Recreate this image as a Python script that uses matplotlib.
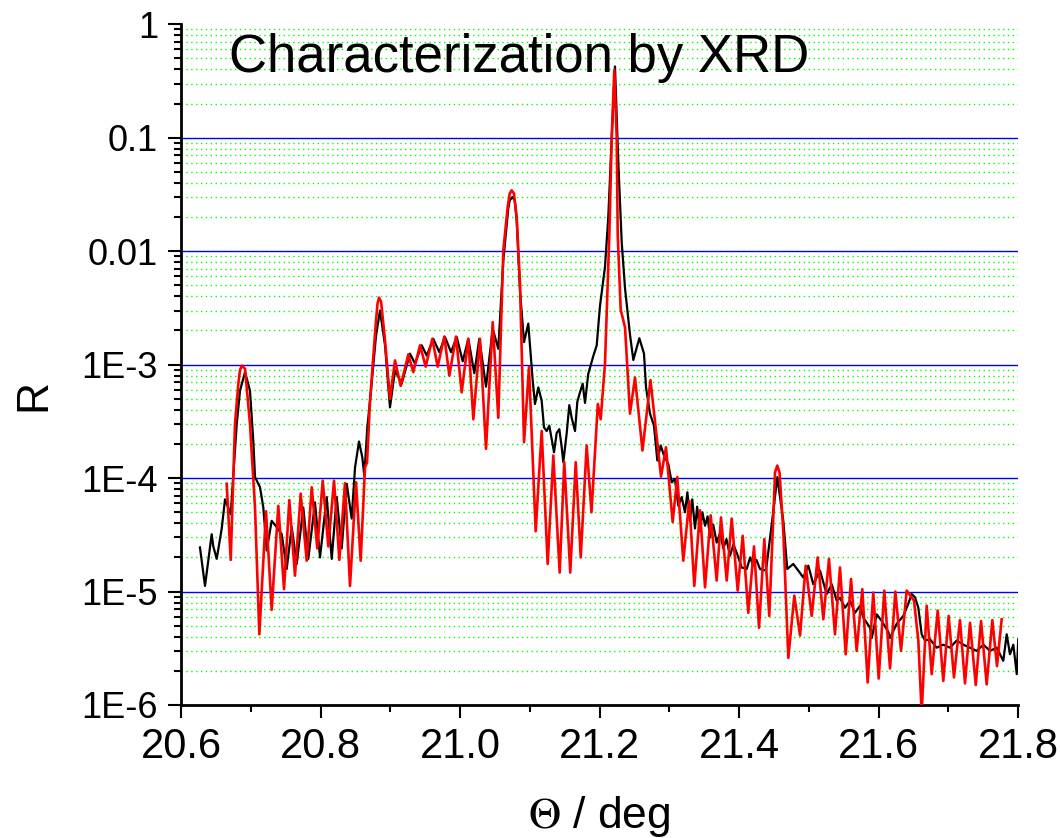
import matplotlib
matplotlib.use('Agg')
import matplotlib.pyplot as plt
from matplotlib.ticker import FixedLocator, FixedFormatter, NullFormatter

plt.rcParams['font.family'] = ['Liberation Sans', 'DejaVu Sans']
plt.rcParams['mathtext.fontset'] = 'stix'

# measured curve (black)
meas_theta = [20.6272, 20.6344, 20.6440, 20.6463, 20.6512, 20.6584, 20.6631, 20.6713, 20.6799, 20.6846,
              20.6918, 20.6989, 20.7037, 20.7061, 20.7133, 20.7180, 20.7229, 20.7300, 20.7372, 20.7444,
              20.7515, 20.7587, 20.7659, 20.7753, 20.7825, 20.7921, 20.7993, 20.8089, 20.8161, 20.8232,
              20.8304, 20.8376, 20.8447, 20.8495, 20.8552, 20.8599, 20.8628, 20.8671, 20.8710, 20.8796,
              20.8853, 20.8925, 20.8996, 20.9068, 20.9164, 20.9283, 20.9355, 20.9451, 20.9523, 20.9617,
              20.9703, 20.9785, 20.9871, 20.9953, 21.0039, 21.0119, 21.0205, 21.0277, 21.0373, 21.0469,
              21.0549, 21.0621, 21.0692, 21.0713, 21.0750, 21.0784, 21.0813, 21.0860, 21.0918, 21.0979,
              21.1042, 21.1075,
              21.1123, 21.1171, 21.1204, 21.1243, 21.1280, 21.1315, 21.1348, 21.1386, 21.1424, 21.1458,
              21.1481, 21.1530, 21.1567, 21.1601, 21.1649, 21.1682, 21.1720, 21.1759, 21.1792, 21.1839,
              21.1911, 21.1960, 21.2007, 21.2079, 21.2126, 21.2175, 21.2222, 21.2270, 21.2318, 21.2366,
              21.2437, 21.2485, 21.2571, 21.2638, 21.2667, 21.2724, 21.2781, 21.2829, 21.2877, 21.2925,
              21.2986, 21.3035, 21.3082, 21.3130, 21.3178, 21.3226, 21.3260, 21.3297, 21.3330, 21.3369,
              21.3400, 21.3441, 21.3475, 21.3513, 21.3550,
              21.3584, 21.3630, 21.3680, 21.3730, 21.3775, 21.3820, 21.3871, 21.3920, 21.3967, 21.4039,
              21.4110, 21.4160, 21.4205, 21.4250, 21.4301, 21.4387,
              21.4469, 21.4549, 21.4635, 21.4692, 21.4778, 21.4850, 21.4922, 21.4994, 21.5065, 21.5161,
              21.5257, 21.5329, 21.5401, 21.5448, 21.5520, 21.5591, 21.5663, 21.5735, 21.5782, 21.5878,
              21.5903, 21.5974, 21.6046, 21.6141, 21.6165, 21.6261, 21.6356, 21.6427, 21.6476, 21.6523,
              21.6571, 21.6619, 21.6667, 21.6738, 21.6834, 21.6929, 21.7025, 21.7121, 21.7216, 21.7312,
              21.7408, 21.7503, 21.7599, 21.7695, 21.7789, 21.7838, 21.7885, 21.7933, 21.7982, 21.8004]
meas_R = [2.45e-5, 1.12e-5, 3.2e-5, 2.5e-5, 1.94e-5, 3.6e-5, 6.5e-5, 4.8e-5, 3.0e-4, 5.9e-4,
          8.6e-4, 5.9e-4, 2.1e-4, 1.02e-4, 8.3e-5, 5.5e-5, 2.3e-5, 4.2e-5, 3.7e-5, 3.2e-5,
          1.58e-5, 3.7e-5, 1.75e-5, 5.5e-5, 1.94e-5, 6.1e-5, 2.0e-5, 6.8e-5, 1.94e-5, 6.8e-5,
          2.4e-5, 8.9e-5, 4.4e-5, 1.24e-4, 2.1e-4, 1.53e-4, 1.05e-4, 2.8e-4, 4.8e-4, 1.8e-3,
          3.0e-3, 1.48e-3, 4.2e-4, 8.9e-4, 6.8e-4, 1.25e-3, 1.02e-3, 1.48e-3, 1.2e-3, 1.69e-3,
          1.29e-3, 1.75e-3, 1.29e-3, 1.75e-3, 1.07e-3, 1.69e-3, 8.4e-4, 1.69e-3, 6.4e-4, 2.07e-3,
          1.38e-3, 8.3e-3, 2.38e-2, 2.81e-2, 3.0e-2, 2.81e-2, 1.87e-2, 4.5e-3, 1.58e-3, 2.3e-3,
          7.3e-4, 4.5e-4,
          6.3e-4, 4.8e-4, 2.8e-4, 2.6e-4, 2.9e-4, 2.2e-4, 1.69e-4, 2.5e-4, 2.7e-4, 1.87e-4,
          1.38e-4, 2.5e-4, 4.4e-4, 3.4e-4, 2.6e-4, 4.7e-4, 5.7e-4, 6.8e-4, 4.6e-4, 8.3e-4,
          1.19e-3, 1.48e-3, 3.3e-3, 7.3e-3, 2.0e-2, 9.9e-2, 4.25e-1, 6.0e-2, 1.21e-2, 4.7e-3,
          1.84e-3, 1.1e-3, 1.71e-3, 1.25e-3, 6.3e-4, 3.7e-4, 2.9e-4, 1.43e-4, 1.94e-4, 1.58e-4,
          1.33e-4, 9.2e-5, 9.8e-5, 5.7e-5, 6.8e-5, 5.0e-5, 7.5e-5, 4.2e-5, 6.5e-5, 3.6e-5,
          5.6e-5, 3.4e-5, 5.0e-5, 3.8e-5, 4.6e-5,
          3.0e-5, 3.9e-5, 2.7e-5, 3.3e-5, 2.4e-5, 2.9e-5, 2.07e-5, 2.6e-5, 2.2e-5, 1.63e-5,
          1.58e-5, 2.0e-5, 1.69e-5, 1.9e-5, 1.58e-5, 1.53e-5,
          3.9e-5, 1.02e-4, 4.2e-5, 1.58e-5, 1.75e-5, 1.53e-5, 1.33e-5, 1.69e-5, 1.16e-5, 1.53e-5,
          9.5e-6, 1.16e-5, 8.3e-6, 8.8e-6, 7.2e-6, 8.3e-6, 6.5e-6, 7.5e-6, 5.9e-6, 4.8e-6,
          3.9e-6, 6.3e-6, 5.5e-6, 4.4e-6, 3.9e-6, 5.2e-6, 6.1e-6, 7.8e-6, 9.5e-6, 8.9e-6,
          7.2e-6, 4.2e-6, 3.7e-6, 3.8e-6, 3.2e-6, 3.4e-6, 3.2e-6, 3.7e-6, 3.4e-6, 3.2e-6,
          3.0e-6, 3.4e-6, 3.0e-6, 3.2e-6, 2.45e-6, 4.2e-6, 2.8e-6, 3.4e-6, 1.87e-6, 3.8e-6]

# simulated curve (red)
sim_theta = [20.6655, 20.6713, 20.6774, 20.6822, 20.6845, 20.6870, 20.6918, 20.6989, 20.7061, 20.7123, 20.7219,
             20.7300, 20.7395, 20.7477, 20.7553, 20.7634, 20.7716, 20.7802, 20.7874, 20.7954, 20.8032,
             20.8112, 20.8194, 20.8270, 20.8351, 20.8423, 20.8509, 20.8576, 20.8638, 20.8667, 20.8710,
             20.8796, 20.8818, 20.8839, 20.8868, 20.8925, 20.8996, 20.9068, 20.9150, 20.9259, 20.9330, 20.9427, 20.9508,
             20.9603, 20.9680, 20.9775, 20.9847, 20.9943, 21.0024, 21.0119, 21.0191, 21.0287, 21.0373,
             21.0469, 21.0549, 21.0621, 21.0684, 21.0713, 21.0741, 21.0774, 21.0813, 21.0860, 21.0918, 21.0989, 21.1085,
             21.1171, 21.1257, 21.1338, 21.1429, 21.1495, 21.1581, 21.1659, 21.1731, 21.1816, 21.1885,
             21.1976, 21.2017, 21.2079, 21.2141, 21.2175, 21.2212, 21.2247, 21.2261, 21.2304, 21.2366,
             21.2437, 21.2509, 21.2616, 21.2731, 21.2882, 21.2953, 21.3049, 21.3115, 21.3201, 21.3287,
             21.3359, 21.3441, 21.3513, 21.3594, 21.3680, 21.3742, 21.3824, 21.3895, 21.3981, 21.4053,
             21.4133, 21.4215, 21.4287, 21.4363, 21.4434, 21.4492, 21.4516, 21.4549, 21.4581, 21.4635, 21.4707, 21.4793,
             21.4875, 21.4956, 21.5042, 21.5128, 21.5209, 21.5290, 21.5376, 21.5448, 21.5530, 21.5606,
             21.5687, 21.5768, 21.5845, 21.5925, 21.6003, 21.6083, 21.6165, 21.6241, 21.6323, 21.6404,
             21.6509, 21.6571, 21.6619, 21.6691, 21.6763, 21.6849, 21.6929, 21.7006, 21.7082, 21.7168,
             21.7240, 21.7312, 21.7394, 21.7470, 21.7551, 21.7632, 21.7699, 21.7766]
sim_R = [8.9e-5, 1.9e-5, 3.0e-4, 6.8e-4, 8.9e-4, 9.8e-4, 9.2e-4, 3.0e-4, 5.5e-5, 4.2e-6, 5.1e-5,
         6.9e-6, 5.7e-5, 1.05e-5, 6.4e-5, 1.38e-5, 7.3e-5, 1.87e-5, 8.3e-5, 2.4e-5, 9.5e-5,
         2.5e-5, 9.5e-5, 1.9e-5, 9.0e-5, 1.12e-5, 9.2e-5, 1.87e-5, 1.24e-4, 1.37e-4, 4.8e-4,
         2.45e-3, 3.47e-3, 3.9e-3, 3.6e-3, 1.64e-3, 5.0e-4, 1.09e-3, 6.5e-4, 1.23e-3, 8.6e-4, 1.48e-3, 9.6e-4,
         1.69e-3, 9.6e-4, 1.77e-3, 8.0e-4, 1.77e-3, 5.7e-4, 1.69e-3, 3.3e-4, 1.69e-3, 1.81e-4,
         2.37e-3, 3.4e-4, 1.02e-2, 2.46e-2, 3.22e-2, 3.44e-2, 3.22e-2, 2.0e-2, 5.2e-3, 2.07e-4, 9.5e-4, 3.4e-5,
         2.6e-4, 1.75e-5, 1.58e-4, 1.47e-5, 1.38e-4, 1.47e-5, 1.38e-4, 2.0e-5, 1.94e-4, 5.0e-5,
         4.5e-4, 3.3e-4, 1.03e-3, 1.4e-2, 9.9e-2, 3.95e-1, 9.9e-2, 1.4e-2, 3.05e-3, 2.13e-3,
         3.7e-4, 7.7e-4, 1.75e-4, 7.3e-4, 1.03e-4, 1.87e-4, 4.1e-5, 1.02e-4, 1.87e-5, 6.3e-5,
         1.12e-5, 5.2e-5, 1.09e-5, 4.7e-5, 1.25e-5, 4.5e-5, 1.25e-5, 4.4e-5, 1.02e-5, 3.1e-5,
         6.5e-6, 2.5e-5, 4.8e-6, 2.9e-5, 6.1e-6, 4.5e-5, 1.12e-4, 1.29e-4, 1.12e-4, 3.4e-5, 2.6e-6, 9.2e-6,
         4.1e-6, 1.69e-5, 6.1e-6, 2.0e-5, 5.7e-6, 1.94e-5, 4.2e-6, 1.63e-5, 2.8e-6, 1.29e-5,
         3.0e-6, 1.05e-5, 1.58e-6, 9.8e-6, 1.71e-6, 1.02e-5, 2.1e-6, 1.0e-5, 3.0e-6, 1.02e-5,
         8.3e-6, 3.7e-6, 8.5e-7, 7.5e-6, 1.87e-6, 6.8e-6, 1.63e-6, 6.1e-6, 1.75e-6, 5.6e-6,
         1.55e-6, 5.3e-6, 1.5e-6, 5.5e-6, 1.52e-6, 5.6e-6, 2.2e-6, 5.7e-6]

y_tick_values = [1, 0.1, 0.01, 1e-3, 1e-4, 1e-5, 1e-6]
y_tick_labels = ['1', '0.1', '0.01', '1E-3', '1E-4', '1E-5', '1E-6']
x_tick_values = [20.6, 20.8, 21.0, 21.2, 21.4, 21.6, 21.8]
x_tick_labels = ['20.6', '20.8', '21.0', '21.2', '21.4', '21.6', '21.8']
x_minor_values = [20.7, 20.9, 21.1, 21.3, 21.5, 21.7]

W, H = 1060, 838
fig = plt.figure(figsize=(W / 100, H / 100), dpi=100)
ax = fig.add_axes([181 / W, 1 - 705 / H, (1018 - 181) / W, (705 - 24.3) / H])
ax.set_yscale('log')
ax.set_xlim(20.6, 21.8)
ax.set_ylim(1e-6, 1)

ax.plot(meas_theta, meas_R, color='black', lw=1.6, zorder=3)
ax.plot(sim_theta, sim_R, color='#ff0000', lw=1.9, zorder=4)

# ticks
ax.yaxis.set_major_locator(FixedLocator(y_tick_values))
ax.yaxis.set_major_formatter(FixedFormatter(y_tick_labels))
minor_y = [m * 10.0 ** e for e in range(-6, 0) for m in range(2, 10)]
ax.yaxis.set_minor_locator(FixedLocator(minor_y))
ax.yaxis.set_minor_formatter(NullFormatter())
ax.set_xticks(x_tick_values)
ax.set_xticklabels(x_tick_labels, fontsize=30)
ax.set_xticks(x_minor_values, minor=True)

ax.tick_params(axis='both', which='major', direction='out', length=9.5, width=1.5, pad=7)
ax.tick_params(axis='y', which='major', labelsize=26)
ax.tick_params(axis='both', which='minor', direction='out', length=5, width=1.5)
ax.tick_params(axis='x', which='major', pad=6)
ax.tick_params(top=False, right=False, which='both')

for s in ['top', 'right']:
    ax.spines[s].set_visible(False)
for s in ['left', 'bottom']:
    ax.spines[s].set_linewidth(2)

# grids
ax.set_axisbelow(True)
ax.yaxis.grid(True, which='minor', color='#00ff00', lw=1.0, linestyle=(0, (1, 2.5)))
ax.yaxis.grid(True, which='major', color='#0000ff', lw=1.0, linestyle='-')
for t, v in zip(ax.yaxis.get_major_ticks(), y_tick_values):
    if v in (1, 1e-6):
        t.gridline.set_visible(False)

ax.set_ylabel('R', fontsize=32, va='baseline')
ax.yaxis.set_label_coords((45 - 181) / 837, 1 - (395 - 24.3) / 680.7)
ax.set_xlabel(r'$\Theta$ / deg', fontsize=32, va='baseline')
ax.xaxis.set_label_coords(0.5, -(828 - 705) / 680.7)
ax.text(0.404, 0.930, 'Characterization by XRD', transform=ax.transAxes,
        ha='center', va='baseline', fontsize=38, color='black', zorder=5)

fig.savefig('out.png', dpi=100)
